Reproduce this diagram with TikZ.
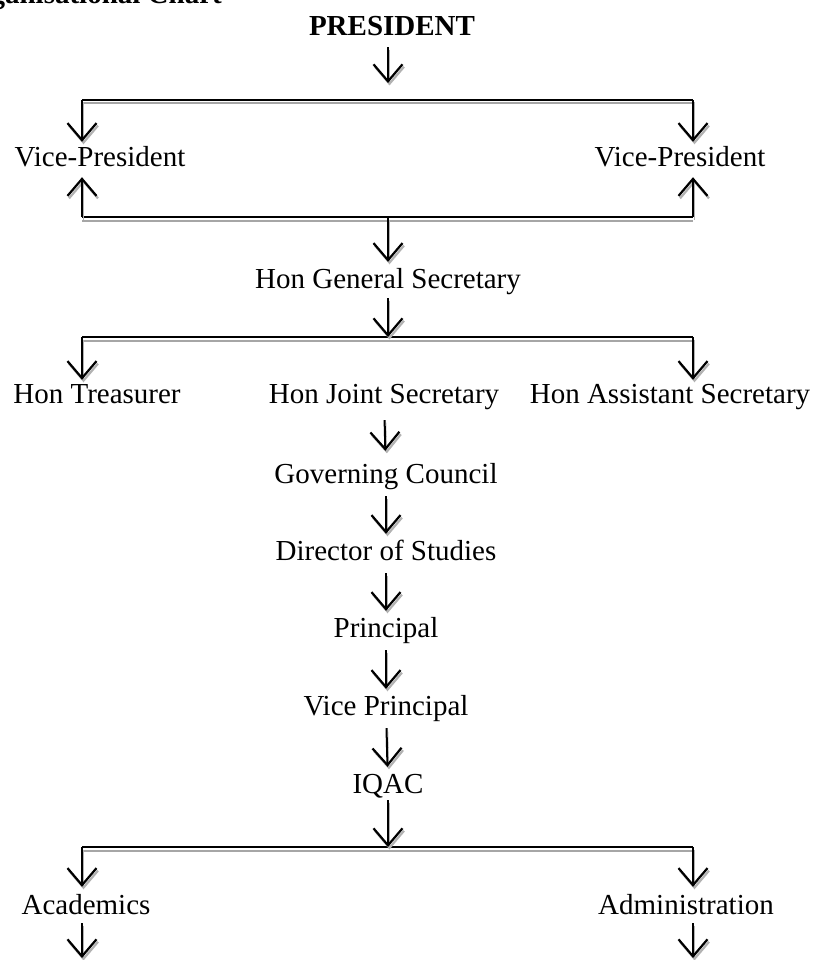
\documentclass[tikz,border=0pt]{standalone}
\usepackage{fontspec}
\setmainfont{Liberation Serif}
\usetikzlibrary{arrows.meta,positioning,calc}

\begin{document}
\begin{tikzpicture}[
    x=1pt, y=-1pt,
    font=\fontsize{29}{34}\selectfont,
    lbl/.style={inner sep=0pt, text height=20pt, text depth=7pt, anchor=base},
    arr/.style={line width=2pt, -{Straight Barb[length=17pt,width=29pt,line width=2.2pt]},
                shorten <=4pt, shorten >=5pt,
                preaction={draw=black!30, transform canvas={shift={(1.5pt,-2.5pt)}}}},
    bar/.style={line width=2pt,
                preaction={draw=black!35, line width=2pt, transform canvas={yshift=-3.5pt}}}
]
\useasboundingbox (0,0) rectangle (815,960);

%–––– TITLE (cut off at the top) ––––––––––––––––––––––
\node (title) [lbl, anchor=base east, font=\fontsize{29}{34}\selectfont\bfseries] at (222,4) {Organisational Chart};

%–––– TOP ––––––––––––––––––––––––––––––––––––––––––––
\node (pres) [lbl, font=\fontsize{29}{34}\selectfont\bfseries] at (392,36) {PRESIDENT};
\node (vpl)  [lbl] at (100,167) {Vice-President};
\node (vpr)  [lbl] at (680,167) {Vice-President};
\node (hgs)  [lbl] at (388,288) {Hon General Secretary};

\coordinate (b1l) at (82,100);  \coordinate (b1r) at (693,100);  \coordinate (b1m) at (388,100);
\coordinate (b2l) at (82,217);  \coordinate (b2r) at (693,217);  \coordinate (b2m) at (388,217);

\draw[bar] (b1l) -- (b1r);
\draw[bar] (b2l) -- (b2r);

\draw[arr, shorten >=17pt] (b1m |- pres.south) -- (b1m);
\draw[arr, shorten <=0pt] (b1l) -- (b1l |- vpl.north);
\draw[arr, shorten <=0pt] (b1r) -- (b1r |- vpr.north);
\draw[arr, shorten <=0pt, shorten >=3pt] (b2l) -- (b2l |- vpl.south);
\draw[arr, shorten <=0pt, shorten >=3pt] (b2r) -- (b2r |- vpr.south);
\draw[arr, shorten <=0pt, shorten >=6pt] (b2m) -- (b2m |- hgs.north);

%–––– SECRETARIES ––––––––––––––––––––––––––––––––––––
\node (htr) [lbl] at (97,403)  {Hon Treasurer};
\node (hjs) [lbl] at (384,403) {Hon Joint Secretary};
\node (has) [lbl] at (670,403) {Hon Assistant Secretary};

\coordinate (b3l) at (82,337);  \coordinate (b3r) at (693,337);  \coordinate (b3m) at (388,337);
\draw[bar] (b3l) -- (b3r);

\draw[arr, shorten <=3pt, shorten >=0pt] (b3m |- hgs.south) -- (b3m);
\draw[arr, shorten <=0pt, shorten >=3pt] (b3l) -- (b3l |- htr.north);
\draw[arr, shorten <=0pt, shorten >=3pt] (b3r) -- (b3r |- has.north);

%–––– COLLEGE ––––––––––––––––––––––––––––––––––––––––
\node (gc)   [lbl] at (386,483) {Governing Council};
\node (dos)  [lbl] at (386,560) {Director of Studies};
\node (prin) [lbl] at (386,637) {Principal};
\node (vprin)[lbl] at (386,715) {Vice Principal};
\node (iqac) [lbl] at (388,793) {IQAC};

\draw[arr, shorten <=10pt, shorten >=12pt] (hjs) -- (gc);
\foreach \a/\b in {gc/dos, dos/prin, prin/vprin, vprin/iqac}
  \draw[arr, shorten <=6pt, shorten >=6pt] (\a) -- (\b);

%–––– ACADEMICS / ADMINISTRATION ––––––––––––––––––––––
\node (acad) [lbl] at (86,914)  {Academics};
\node (adm)  [lbl] at (686,914) {Administration};

\coordinate (b4l) at (82,847);  \coordinate (b4r) at (693,847);  \coordinate (b4m) at (388,847);
\draw[bar] (b4l) -- (b4r);

\draw[arr, shorten <=0pt, shorten >=0pt] (b4m |- iqac.south) -- (b4m);
\draw[arr, shorten <=0pt, shorten >=7pt] (b4l) -- (b4l |- acad.north);
\draw[arr, shorten <=0pt, shorten >=7pt] (b4r) -- (b4r |- adm.north);

\coordinate (endl) at (82,958);  \coordinate (endr) at (693,958);
\draw[arr, shorten <=2pt, shorten >=0pt] (endl |- acad.south) -- (endl);
\draw[arr, shorten <=2pt, shorten >=0pt] (endr |- adm.south) -- (endr);
\end{tikzpicture}
\end{document}
